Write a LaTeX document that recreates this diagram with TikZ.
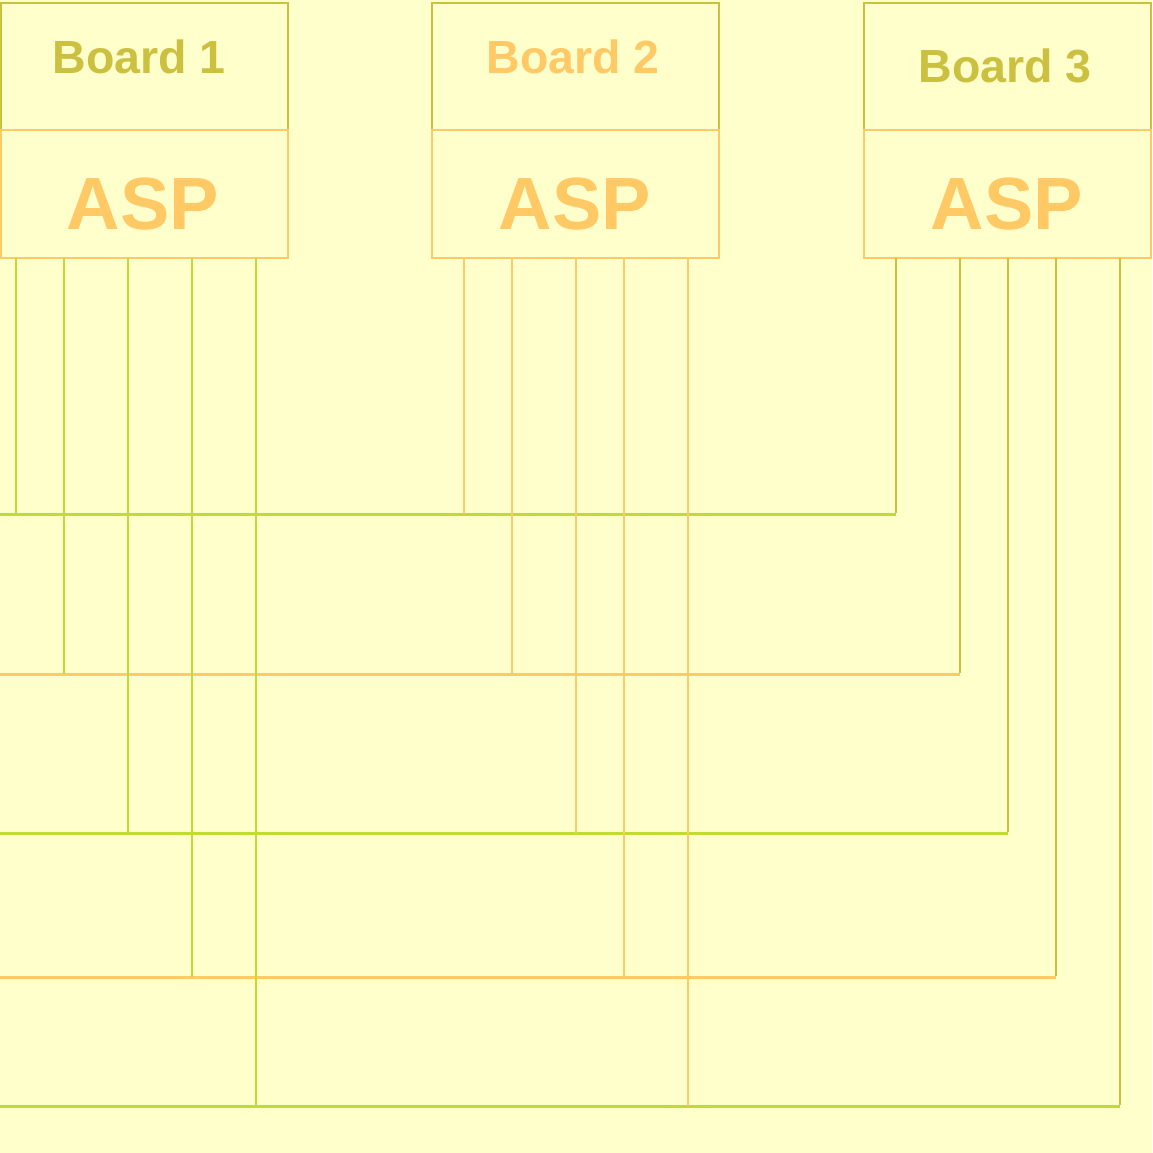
\documentclass[tikz,border=0pt]{standalone}
\usepackage{fontspec}
\setmainfont{Liberation Sans}
\definecolor{bgc}{RGB}{255,255,204}
\definecolor{olivec}{RGB}{204,192,64}
\definecolor{orngc}{RGB}{255,201,102}
\definecolor{limec}{RGB}{190,219,56}
\begin{document}
\begin{tikzpicture}[x=1pt,y=-1pt,
  boardbox/.style={draw=olivec,line width=2.4pt,rectangle,minimum width=287pt,minimum height=127pt,anchor=north west,inner sep=0pt,outer sep=0pt},
  aspbox/.style={draw=orngc,line width=2.4pt,rectangle,minimum width=287pt,minimum height=128pt,anchor=north west,inner sep=0pt,outer sep=0pt},
  boardtxt/.style={font=\bfseries\fontsize{46.5}{46.5}\selectfont,anchor=base,inner sep=0pt},
  asptxt/.style={font=\bfseries\fontsize{74}{74}\selectfont,text=orngc,anchor=base,inner sep=0pt},
  bus/.style={line width=3pt},
  wire/.style={line width=2.8pt}]
\fill[bgc] (0,0) rectangle (1152,1153);
\useasboundingbox (0,0) rectangle (1152,1153);
% boxes
\node[boardbox] (board1) at (1,3) {};
\node[boardbox] (board2) at (432,3) {};
\node[boardbox] (board3) at (864,3) {};
\node[aspbox] (asp1) at (1,130) {};
\node[aspbox] (asp2) at (432,130) {};
\node[aspbox] (asp3) at (864,130) {};
% texts
\node[boardtxt,text=olivec] (t1) at (139,74) {Board 1};
\node[boardtxt,text=orngc] (t2) at (573,74) {Board 2};
\node[boardtxt,text=olivec] (t3) at (1005,83) {Board 3};
\node[asptxt] (a1) at (143,229) {ASP};
\node[asptxt] (a2) at (575,229) {ASP};
\node[asptxt] (a3) at (1007,229) {ASP};
% bus coordinates
\foreach \i/\y/\pa/\pb/\pc in {1/514/16/464/896, 2/674/64/512/960, 3/833/128/576/1008, 4/977/192/624/1056, 5/1106/256/688/1120}{
  \coordinate (busL\i) at (0,\y);
  \coordinate (p1\i) at (\pa,258);
  \coordinate (p2\i) at (\pb,258);
  \coordinate (p3\i) at (\pc,258);
  \coordinate (e1\i) at (\pa,\y);
  \coordinate (e2\i) at (\pb,\y);
  \coordinate (e3\i) at (\pc,\y);
}
% horizontal buses
\draw[bus,limec] (busL1) -- (e31);
\draw[bus,orngc] (busL2) -- (e32);
\draw[bus,limec] (busL3) -- (e33);
\draw[bus,orngc] (busL4) -- (e34);
\draw[bus,limec] (busL5) -- (e35);
% vertical wires
\foreach \i in {1,...,5}{
  \draw[wire,limec] (p1\i) -- (e1\i);
  \draw[wire,orngc] (p2\i) -- (e2\i);
  \draw[wire,olivec] (p3\i) -- ([yshift=1.4pt]e3\i);
}
\end{tikzpicture}
\end{document}
